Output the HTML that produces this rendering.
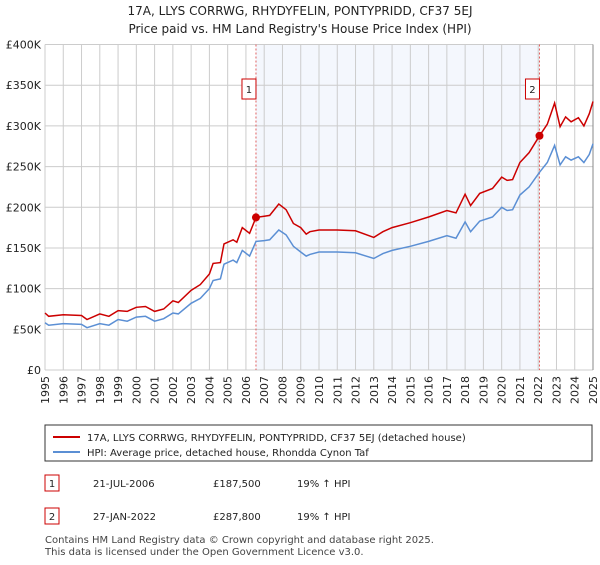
<!DOCTYPE html>
<html><head><meta charset="utf-8"><style>
body{margin:0;background:#fff;font-family:"Liberation Sans","DejaVu Sans",sans-serif;}
svg text{font-family:"DejaVu Sans","Liberation Sans",sans-serif;}
</style></head><body>
<svg id="chart" width="600" height="560" viewBox="0 0 600 560" xmlns="http://www.w3.org/2000/svg">
<text x="300" y="15" text-anchor="middle" font-size="12" fill="#222">17A, LLYS CORRWG, RHYDYFELIN, PONTYPRIDD, CF37 5EJ</text>
<text x="300" y="33" text-anchor="middle" font-size="12" fill="#222">Price paid vs. HM Land Registry's House Price Index (HPI)</text>
<g id="plot"></g>
<g>
<rect x="45" y="425" width="547" height="36" fill="#fff" stroke="#333" stroke-width="1"/>
<line x1="53" y1="437" x2="80" y2="437" stroke="#cc0000" stroke-width="2"/>
<text x="87" y="441" font-size="10" fill="#222">17A, LLYS CORRWG, RHYDYFELIN, PONTYPRIDD, CF37 5EJ (detached house)</text>
<line x1="53" y1="452" x2="80" y2="452" stroke="#5b8fd4" stroke-width="2"/>
<text x="87" y="456" font-size="10" fill="#222">HPI: Average price, detached house, Rhondda Cynon Taf</text>
</g>
<g font-size="10" fill="#222">
<rect x="45" y="475" width="14" height="16" fill="#fff" stroke="#cc0000"/>
<text x="52" y="487" text-anchor="middle">1</text>
<text x="93" y="487">21-JUL-2006</text><text x="213" y="487">£187,500</text><text x="297" y="487">19% ↑ HPI</text>
<rect x="45" y="508" width="14" height="16" fill="#fff" stroke="#cc0000"/>
<text x="52" y="520" text-anchor="middle">2</text>
<text x="93" y="520">27-JAN-2022</text><text x="213" y="520">£287,800</text><text x="297" y="520">19% ↑ HPI</text>
</g>
<text x="45" y="543" font-size="10" fill="#444">Contains HM Land Registry data © Crown copyright and database right 2025.</text>
<text x="45" y="555" font-size="10" fill="#444">This data is licensed under the Open Government Licence v3.0.</text>
</svg>
<script>
const years=[1995,1995.2,1996,1997,1997.3,1998,1998.5,1999,1999.5,2000,2000.5,2001,2001.5,2002,2002.3,2003,2003.5,2004,2004.2,2004.6,2004.8,2005.3,2005.5,2005.8,2006.2,2006.55,2007,2007.3,2007.8,2008.2,2008.6,2009,2009.3,2009.5,2010,2011,2012,2013,2013.5,2014,2015,2016,2017,2017.5,2018,2018.3,2018.8,2019.5,2020,2020.3,2020.6,2021,2021.5,2022.07,2022.5,2022.9,2023.2,2023.5,2023.8,2024.2,2024.5,2024.8,2025];
const hpi=[58,55,57,56,52,57,55,62,60,65,66,60,63,70,69,82,88,100,110,112,130,135,132,147,140,158,159,160,172,166,152,145,140,142,145,145,144,137,143,147,152,158,165,162,182,170,183,188,200,196,197,215,225,243,255,276,252,262,258,262,255,265,278];
const price=[70,66,68,67,62,69,66,73,72,77,78,72,75,85,83,98,105,118,131,132,155,160,157,175,168,187.5,189,190,204,197,180,175,167,170,172,172,171,163,170,175,181,188,196,193,216,202,217,223,237,233,234,255,267,287.8,302,328,299,311,305,310,300,315,330];
const yTicks=[0,50,100,150,200,250,300,350,400];
const yTickLabels=["£0","£50K","£100K","£150K","£200K","£250K","£300K","£350K","£400K"];
const xTicks=[1995,1996,1997,1998,1999,2000,2001,2002,2003,2004,2005,2006,2007,2008,2009,2010,2011,2012,2013,2014,2015,2016,2017,2018,2019,2020,2021,2022,2023,2024,2025];
const saleYears=[2006.55,2022.07];
const saleValues=[187.5,287.8];
const saleLabels=["1","2"];
const shadeRange=[2006.55,2022.07];
const L=45,R=593,T=44.5,B=370;
const X=y=>L+(y-1995)/30*(R-L);
const Y=v=>B-v/400*(B-T);
const NS="http://www.w3.org/2000/svg";
const g=document.getElementById('plot');
function mk(t,a){const e=document.createElementNS(NS,t);for(const k in a)e.setAttribute(k,a[k]);g.appendChild(e);return e;}
let e=mk('rect',{x:X(shadeRange[0]),y:T,width:X(shadeRange[1])-X(shadeRange[0]),height:B-T,fill:'#f4f7fd'});


xTicks.forEach(t=>{const l=mk('line',{x1:X(t),x2:X(t),y1:T,y2:B,stroke:'#ccc','stroke-width':1});


const tx=mk('text',{x:0,y:0,'font-size':11,fill:'#222','text-anchor':'end',transform:`translate(${X(t)+4},${B+6}) rotate(-90)`});tx.textContent=t;

});
yTicks.forEach((t,i)=>{const l=mk('line',{x1:L,x2:R,y1:Y(t),y2:Y(t),stroke:'#ccc','stroke-width':1});


const tx=mk('text',{x:L-4,y:Y(t)+4,'font-size':11,fill:'#222','text-anchor':'end'});tx.textContent=yTickLabels[i];

});
e=mk('line',{x1:R,x2:R,y1:T,y2:B,stroke:'#888','stroke-width':1});


saleYears.forEach((s,i)=>{const l=mk('line',{x1:X(s),x2:X(s),y1:T,y2:B,stroke:'#e06060','stroke-width':1,'stroke-dasharray':'2,2'});

});
function path(arr,col,name){const d=years.map((y,i)=>(i?'L':'M')+X(y).toFixed(1)+','+Y(arr[i]).toFixed(1)).join('');
const p=mk('path',{d:d,fill:'none',stroke:col,'stroke-width':1.5});

}
path(hpi,'#5b8fd4','hpi-line');
path(price,'#cc0000','price-line');
saleYears.forEach((s,i)=>{const c=mk('circle',{cx:X(s),cy:Y(saleValues[i]),r:4,fill:'#cc0000'});


const r=mk('rect',{x:X(s)-14,y:79,width:14,height:20,fill:'#fff',stroke:'#cc0000'});


const t=mk('text',{x:X(s)-7,y:93,'font-size':10,'text-anchor':'middle',fill:'#222'});t.textContent=saleLabels[i];

});
</script>
</body></html>
